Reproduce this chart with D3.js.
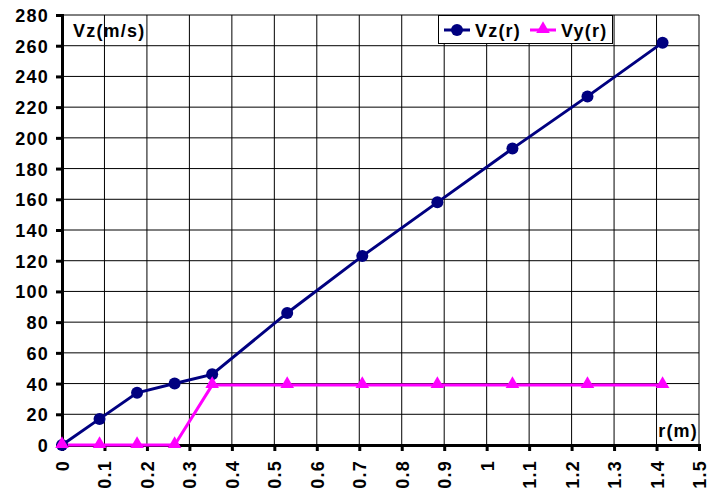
<!DOCTYPE html>
<html>
<head>
<meta charset="utf-8">
<script src="https://cdn.jsdelivr.net/npm/d3@7"></script>
<style>
  html, body { margin: 0; padding: 0; background: #fff; }
  svg { display: block; font-family: "Liberation Sans", Arial, sans-serif; font-weight: bold; }
  .lbl { font-size: 18px; letter-spacing: 1.2px; }
</style>
</head>
<body>
<svg id="chart" width="709" height="496"></svg>
<script>
// Radial positions (m) and velocity components (m/s)
const rValues  = [0, 0.0884, 0.1768, 0.2652, 0.3536, 0.5303, 0.7071, 0.8839, 1.0607, 1.2374, 1.4142];
const vzValues = [0, 17, 34, 40, 46, 86, 123, 158, 193, 227, 262];
const vyValues = [0, 0, 0, 0, 39, 39, 39, 39, 39, 39, 39];
const xTicks = [0, 0.1, 0.2, 0.3, 0.4, 0.5, 0.6, 0.7, 0.8, 0.9, 1, 1.1, 1.2, 1.3, 1.4, 1.5];
const yTicks = [0, 20, 40, 60, 80, 100, 120, 140, 160, 180, 200, 220, 240, 260, 280];
const seriesNames = ["Vz(r)", "Vy(r)"];

const svg = d3.select("#chart");
const plotLeft = 62, plotRight = 699, plotTop = 15, plotBottom = 445;

const x = d3.scaleLinear().domain([0, 1.5]).range([plotLeft, plotRight]);
const y = d3.scaleLinear().domain([0, 280]).range([plotBottom, plotTop]);

// grid
const grid = svg.append("g").attr("stroke", "#000").attr("stroke-width", 1);
grid.selectAll("line.v").data(xTicks).join("line")
  .attr("x1", d => x(d)).attr("x2", d => x(d))
  .attr("y1", plotTop).attr("y2", plotBottom);
grid.selectAll("line.h").data(yTicks).join("line")
  .attr("x1", plotLeft).attr("x2", plotRight)
  .attr("y1", d => y(d)).attr("y2", d => y(d));

// axes
const yAxis = svg.append("g").attr("transform", `translate(${plotLeft},0)`)
  .call(d3.axisLeft(y).tickValues(yTicks).tickSize(6).tickPadding(7).tickFormat(d3.format("d")));
const xAxis = svg.append("g").attr("transform", `translate(0,${plotBottom})`)
  .call(d3.axisBottom(x).tickValues(xTicks).tickSize(6).tickFormat(d => String(d)));

[yAxis, xAxis].forEach(a => {
  a.select(".domain").attr("stroke", "#000").attr("stroke-width", 3);
  a.selectAll(".tick line").attr("stroke", "#000").attr("stroke-width", 3);
  a.selectAll("text").attr("fill", "#000").attr("class", "lbl")
    .attr("font-size", null).attr("font-family", null)
    .style("font-family", '"Liberation Sans", Arial, sans-serif')
    .style("font-weight", "bold");
});
yAxis.selectAll(".tick text").attr("dy", "0.36em");
xAxis.selectAll(".tick text")
  .attr("transform", "rotate(-90)")
  .attr("text-anchor", "end")
  .attr("x", -15).attr("y", 0).attr("dy", "0.36em");

// series
const line = (vals) => d3.line().x((d, i) => x(rValues[i])).y(d => y(d))(vals);
svg.append("path").attr("d", line(vzValues)).attr("fill", "none")
  .attr("stroke", "#000080").attr("stroke-width", 3);
svg.append("path").attr("d", line(vyValues)).attr("fill", "none")
  .attr("stroke", "#ff00ff").attr("stroke-width", 3);

const tri = d3.symbol().type(d3.symbolTriangle).size(80);
svg.selectAll("circle.vz").data(vzValues).join("circle")
  .attr("cx", (d, i) => x(rValues[i])).attr("cy", d => y(d)).attr("r", 6)
  .attr("fill", "#000080");
svg.selectAll("path.vy").data(vyValues).join("path")
  .attr("d", tri).attr("fill", "#ff00ff")
  .attr("transform", (d, i) => `translate(${x(rValues[i])},${y(d) - 1})`);

// axis titles
svg.append("text").attr("class", "lbl").attr("x", 73).attr("y", 37).text("Vz(m/s)");
svg.append("text").attr("class", "lbl").attr("x", 698).attr("y", 437).attr("text-anchor", "end").text("r(m)");

// legend
const lg = svg.append("g");
lg.append("rect").attr("x", 438.5).attr("y", 15.5).attr("width", 174).attr("height", 28)
  .attr("fill", "#fff").attr("stroke", "#000").attr("stroke-width", 1);
lg.append("line").attr("x1", 444).attr("x2", 470).attr("y1", 30).attr("y2", 30)
  .attr("stroke", "#000080").attr("stroke-width", 3);
lg.append("circle").attr("cx", 457).attr("cy", 30).attr("r", 6).attr("fill", "#000080");
lg.append("text").attr("class", "lbl").attr("x", 475).attr("y", 37).text(seriesNames[0]);
lg.append("line").attr("x1", 530).attr("x2", 556).attr("y1", 30).attr("y2", 30)
  .attr("stroke", "#ff00ff").attr("stroke-width", 3);
lg.append("path").attr("d", tri).attr("fill", "#ff00ff").attr("transform", "translate(543,29)");
lg.append("text").attr("class", "lbl").attr("x", 561).attr("y", 37).text(seriesNames[1]);
</script>
</body>
</html>
